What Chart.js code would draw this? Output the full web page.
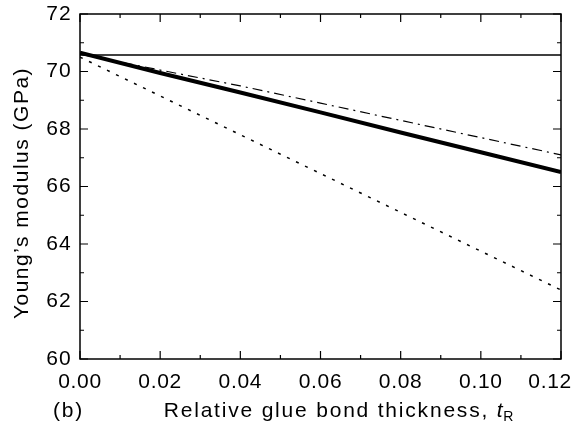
<!DOCTYPE html>
<html>
<head>
<meta charset="utf-8">
<script src="https://cdn.jsdelivr.net/npm/chart.js@4"></script>
<style>
  html, body { margin: 0; padding: 0; background: #fff; }
  #wrap { width: 576px; height: 426px; }
</style>
</head>
<body>
<div id="wrap"><canvas id="modulusChart"></canvas></div>
<script>
// glue bond thickness (x) and modulus curves (GPa)
let thickness = [0.00, 0.02, 0.04, 0.06, 0.08, 0.10, 0.12];
let thickCurve = [70.65, 69.95, 69.27, 68.58, 67.88, 67.19, 66.50];
let dashDotCurve = [70.60, 70.05, 69.50, 68.90, 68.30, 67.70, 67.10];
let dottedCurve = [70.50, 69.15, 67.80, 66.45, 65.10, 63.75, 62.40];
let flatX = [0.00, 0.12];
let flatCurve = [70.57, 70.57];

let xTitle = "Relative glue bond thickness, ";
let panelLabel = "(b)";
let yTitle = "Young\u2019s modulus (GPa)";

const FONT = "'Liberation Sans', Arial, sans-serif";
const SPACING = "1.2px";

function pts(xs, ys){
    return xs.map((x, i) => ({x: x, y: ys[i]}));
}

// letter spacing has to be re-applied whenever the canvas gets reset
const spacingPlugin = {
    id: "spacing",
    beforeLayout(chart){ chart.ctx.letterSpacing = SPACING; },
    beforeDraw(chart){ chart.ctx.letterSpacing = SPACING; }
};

// frame, inward ticks on all four sides, x labels, titles, panel label
const framePlugin = {
    id: "frame",
    afterDraw(chart){
        const ctx = chart.ctx;
        const a = chart.chartArea;
        const xs = chart.scales.x;
        const ys = chart.scales.y;
        ctx.save();
        ctx.strokeStyle = "#000";
        ctx.lineWidth = 1.5;
        ctx.strokeRect(a.left, a.top, a.right - a.left, a.bottom - a.top);

        ctx.lineWidth = 1.2;
        ctx.beginPath();
        for(let i = 0; i <= 12; i++){
            const px = xs.getPixelForValue(i / 100);
            const len = (i % 2 === 0) ? 8 : 4;
            ctx.moveTo(px, a.bottom); ctx.lineTo(px, a.bottom - len);
            ctx.moveTo(px, a.top); ctx.lineTo(px, a.top + len);
        }
        for(let v = 60; v <= 72; v++){
            const py = ys.getPixelForValue(v);
            const len = (v % 2 === 0) ? 8 : 4;
            ctx.moveTo(a.left, py); ctx.lineTo(a.left + len, py);
            ctx.moveTo(a.right, py); ctx.lineTo(a.right - len, py);
        }
        ctx.stroke();

        ctx.fillStyle = "#000";
        ctx.textBaseline = "alphabetic";
        ctx.textAlign = "left";

        // x tick labels, last one pulled in so it stays on the page
        ctx.letterSpacing = "0.7px";
        ctx.font = "21px " + FONT;
        xs.ticks.forEach(t => {
            const txt = t.value.toFixed(2);
            const w = ctx.measureText(txt).width;
            let left = xs.getPixelForValue(t.value) - w / 2;
            if(left + w > 572) left = 572 - w;
            ctx.fillText(txt, left, 388);
        });

        ctx.letterSpacing = "1.8px";
        const base = 417;
        ctx.font = "21px " + FONT;
        ctx.fillText(panelLabel, 53, base);

        const mainW = ctx.measureText(xTitle).width;
        ctx.font = "italic 21px " + FONT;
        const tW = ctx.measureText("t").width;
        ctx.font = "14px " + FONT;
        const rW = ctx.measureText("R").width;
        let x0 = 340 - (mainW + tW + rW) / 2;
        ctx.font = "21px " + FONT;
        ctx.fillText(xTitle, x0, base);
        ctx.font = "italic 21px " + FONT;
        ctx.fillText("t", x0 + mainW, base);
        ctx.font = "14px " + FONT;
        ctx.fillText("R", x0 + mainW + tW - 1, base + 4);

        // y title, rotated
        ctx.letterSpacing = "1.5px";
        ctx.font = "21px " + FONT;
        ctx.translate(22, 193);
        ctx.rotate(-Math.PI / 2);
        ctx.textAlign = "center";
        ctx.textBaseline = "middle";
        ctx.fillText(yTitle, 0, 0);
        ctx.restore();
    }
};

new Chart("modulusChart", {
    type: "line",
    data: {
        datasets: [
            {
                data: pts(flatX, flatCurve),
                borderColor: "#000",
                borderWidth: 1.5
            },
            {
                data: pts(thickness, thickCurve),
                borderColor: "#000",
                borderWidth: 4
            },
            {
                data: pts(thickness, dashDotCurve),
                borderColor: "#000",
                borderWidth: 1.2,
                borderDash: [10, 5, 2, 5]
            },
            {
                data: pts(thickness, dottedCurve),
                borderColor: "#000",
                borderWidth: 1.5,
                borderDash: [3, 7]
            }
        ]
    },
    options: {
        responsive: true,
        maintainAspectRatio: false,
        animation: false,
        layout: {
            padding: {left: 0, top: 14, right: 15, bottom: 0}
        },
        elements: {
            point: {radius: 0},
            line: {tension: 0}
        },
        plugins: {
            legend: {display: false},
            tooltip: {enabled: false}
        },
        scales: {
            x: {
                type: "linear",
                min: 0,
                max: 0.12,
                grid: {display: false, drawTicks: false},
                border: {display: false},
                ticks: {
                    display: false,
                    stepSize: 0.02
                },
                afterFit(scale){
                    scale.height = 67;
                    scale.paddingLeft = 0;
                    scale.paddingRight = 0;
                }
            },
            y: {
                min: 60,
                max: 72,
                grid: {display: false, drawTicks: false},
                border: {display: false},
                ticks: {
                    stepSize: 2,
                    padding: 8,
                    color: "#000",
                    font: {family: FONT, size: 21}
                },
                afterFit(scale){
                    scale.width = 80;
                    scale.paddingTop = 0;
                    scale.paddingBottom = 0;
                }
            }
        }
    },
    plugins: [spacingPlugin, framePlugin]
});
</script>
</body>
</html>
